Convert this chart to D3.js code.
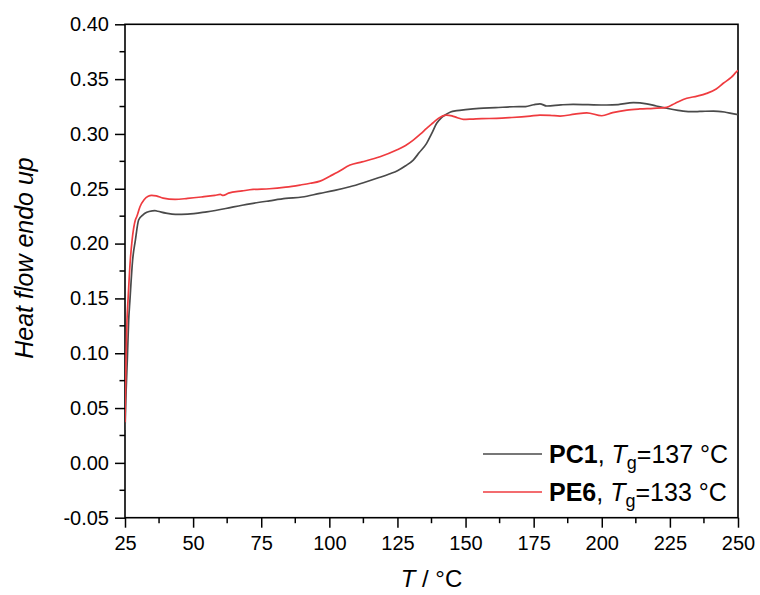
<!DOCTYPE html>
<html>
<head>
<meta charset="utf-8">
<script src="https://cdn.jsdelivr.net/npm/d3@7"></script>
<style>
  html, body { margin: 0; padding: 0; background: #fff; }
  svg { display: block; font-family: "Liberation Sans", Arial, sans-serif; }
</style>
</head>
<body>
<svg id="chart" width="760" height="595"></svg>
<script>
// DSC traces: heat flow (endo up) versus temperature
const pc1T = [25, 25.4, 25.85, 26.35, 26.8, 27.8, 28.8, 30.0, 31.5, 33, 35, 36, 37, 40, 43.5, 48, 55, 62, 68, 72, 78, 84, 90, 96.5, 102, 107.5, 112.5, 118, 122, 125, 128, 130.8, 133, 135.7, 137.5, 139.4, 141, 142.5, 144.5, 146.8, 150, 155, 161, 167.5, 172, 175, 177.3, 179.8, 185, 189.5, 195, 201.8, 206, 211.6, 216.5, 220, 223.8, 228, 232.4, 236, 241, 245, 249.5, 250];
const pc1Q = [0.030, 0.065, 0.094, 0.130, 0.148, 0.185, 0.203, 0.2215, 0.226, 0.2285, 0.2298, 0.2300, 0.2295, 0.2278, 0.2266, 0.2268, 0.2290, 0.2320, 0.2350, 0.2367, 0.2390, 0.2412, 0.2425, 0.2458, 0.2485, 0.2518, 0.2555, 0.2600, 0.2635, 0.2665, 0.2710, 0.2762, 0.2830, 0.2914, 0.3000, 0.3097, 0.3145, 0.3172, 0.3200, 0.3212, 0.3222, 0.3234, 0.3240, 0.3248, 0.3250, 0.3266, 0.3275, 0.3255, 0.3265, 0.3270, 0.3267, 0.3264, 0.3268, 0.3285, 0.3275, 0.3255, 0.3234, 0.3215, 0.3203, 0.3205, 0.3209, 0.3200, 0.3179, 0.3178];

const pe6T = [25, 25.37, 25.73, 26.1, 26.95, 27.6, 28.8, 29.3, 30.5, 32, 33.5, 34.8, 36.5, 39, 43.4, 48, 53, 58, 60, 61, 63, 68, 72, 78, 84, 89.2, 93, 96.6, 100.2, 103, 107.6, 112, 118.6, 124.7, 128, 130.8, 133.5, 135.7, 138, 140, 143, 145, 147, 149.2, 152, 156, 161.4, 167, 173.7, 177.3, 181, 184.7, 190, 194.5, 200, 204, 209.2, 214, 219, 223.8, 227, 231.2, 235, 238.5, 242, 244.6, 247.5, 249.5, 250];
const pe6Q = [0.037, 0.094, 0.130, 0.148, 0.185, 0.203, 0.2215, 0.2245, 0.2336, 0.2400, 0.2432, 0.2440, 0.2435, 0.2415, 0.2403, 0.2412, 0.2425, 0.2440, 0.2448, 0.2440, 0.2460, 0.2480, 0.2494, 0.2500, 0.2515, 0.2534, 0.2550, 0.2570, 0.2615, 0.2650, 0.2716, 0.2745, 0.2792, 0.2853, 0.2895, 0.2944, 0.3000, 0.3051, 0.3100, 0.3142, 0.3172, 0.3165, 0.3148, 0.3133, 0.3135, 0.3140, 0.3142, 0.3150, 0.3163, 0.3172, 0.3170, 0.3163, 0.3180, 0.3193, 0.3166, 0.3195, 0.3218, 0.3228, 0.3234, 0.3243, 0.3280, 0.3325, 0.3345, 0.3370, 0.3410, 0.3462, 0.3515, 0.3568, 0.3580];

const xTicks = [25, 50, 75, 100, 125, 150, 175, 200, 225, 250];
const yTicks = [-0.05, 0.00, 0.05, 0.10, 0.15, 0.20, 0.25, 0.30, 0.35, 0.40];

const seriesNames = ["PC1", "PE6"];
const seriesTg = [137, 133];
const seriesColors = ["#4a4a4a", "#ef3b3f"];

const margin = { left: 125, right: 22, top: 24.3, bottom: 77.3 };
const W = 760, H = 595;
const svg = d3.select("#chart");

const x = d3.scaleLinear().domain([25, 250]).range([margin.left, W - margin.right]);
const y = d3.scaleLinear().domain([-0.05, 0.40]).range([H - margin.bottom, margin.top]);

const x0 = x.range()[0], x1 = x.range()[1];
const y0 = y.range()[0], y1 = y.range()[1];

// minor ticks at half intervals
const xMinor = d3.range(37.5, 250, 25);
const yMinor = d3.range(-0.025, 0.40, 0.05);

const axisColor = "#000";
const tickFont = 20;

// x axis
const gx = svg.append("g").attr("transform", `translate(0,${y0})`)
  .call(d3.axisBottom(x).tickValues(xTicks).tickFormat(d3.format("d")).tickSize(10).tickPadding(8));
gx.append("g").selectAll("line").data(xMinor).join("line")
  .attr("x1", d => x(d)).attr("x2", d => x(d)).attr("y1", 0).attr("y2", 5.5);

// y axis
const gy = svg.append("g").attr("transform", `translate(${x0},0)`)
  .call(d3.axisLeft(y).tickValues(yTicks).tickFormat(d3.format(".2f")).tickSize(10).tickPadding(6));
gy.append("g").selectAll("line").data(yMinor).join("line")
  .attr("y1", d => y(d)).attr("y2", d => y(d)).attr("x1", 0).attr("x2", -5.5);

[gx, gy].forEach(g => {
  g.select(".domain").remove();
  g.selectAll("line").attr("stroke", axisColor).attr("stroke-width", 1.5);
  g.selectAll("text").attr("fill", "#000").style("font-size", tickFont + "px")
    .style("font-family", '"Liberation Sans", Arial, sans-serif');
});
gy.selectAll(".tick text").text(d => d < 0 ? "-" + d3.format(".2f")(-d) : d3.format(".2f")(d));

// frame
svg.append("rect").attr("x", x0).attr("y", y1).attr("width", x1 - x0).attr("height", y0 - y1)
  .attr("fill", "none").attr("stroke", axisColor).attr("stroke-width", 1.6);

// data lines
const line = d3.line().x(d => x(d[0])).y(d => y(d[1])).curve(d3.curveMonotoneX);
const series = [d3.zip(pc1T, pc1Q), d3.zip(pe6T, pe6Q)];
svg.append("clipPath").attr("id", "plotclip").append("rect")
  .attr("x", x0).attr("y", y1).attr("width", x1 - x0).attr("height", y0 - y1);
svg.append("g").attr("clip-path", "url(#plotclip)")
  .selectAll("path").data(series).join("path")
  .attr("d", line).attr("fill", "none")
  .attr("stroke", (d, i) => seriesColors[i]).attr("stroke-width", 1.7)
  .attr("stroke-linejoin", "round");

// legend
const legendRows = [454, 492];
const leg = svg.append("g");
seriesNames.forEach((name, i) => {
  const ly = legendRows[i];
  leg.append("line").attr("x1", 483).attr("x2", 542).attr("y1", ly).attr("y2", ly)
    .attr("stroke", seriesColors[i]).attr("stroke-width", 1.4);
  const t = leg.append("text").attr("x", 549).attr("y", ly + 8.5).style("font-size", "25px").attr("fill", "#000");
  t.append("tspan").attr("font-weight", "bold").text(name);
  t.append("tspan").text(", ");
  t.append("tspan").attr("font-style", "italic").text("T");
  t.append("tspan").attr("dy", 6).style("font-size", "18px").text("g");
  t.append("tspan").attr("dy", -6).text("=" + seriesTg[i] + " °C");
});

// axis titles
const xt = svg.append("text").attr("x", (x0 + x1) / 2).attr("y", 587)
  .attr("text-anchor", "middle").style("font-size", "24px").attr("fill", "#000");
xt.append("tspan").attr("font-style", "italic").text("T");
xt.append("tspan").text(" / °C");

svg.append("text").attr("transform", `translate(33,258) rotate(-90)`)
  .attr("text-anchor", "middle").style("font-size", "25px").attr("font-style", "italic")
  .attr("fill", "#000").text("Heat flow endo up");
</script>
</body>
</html>
